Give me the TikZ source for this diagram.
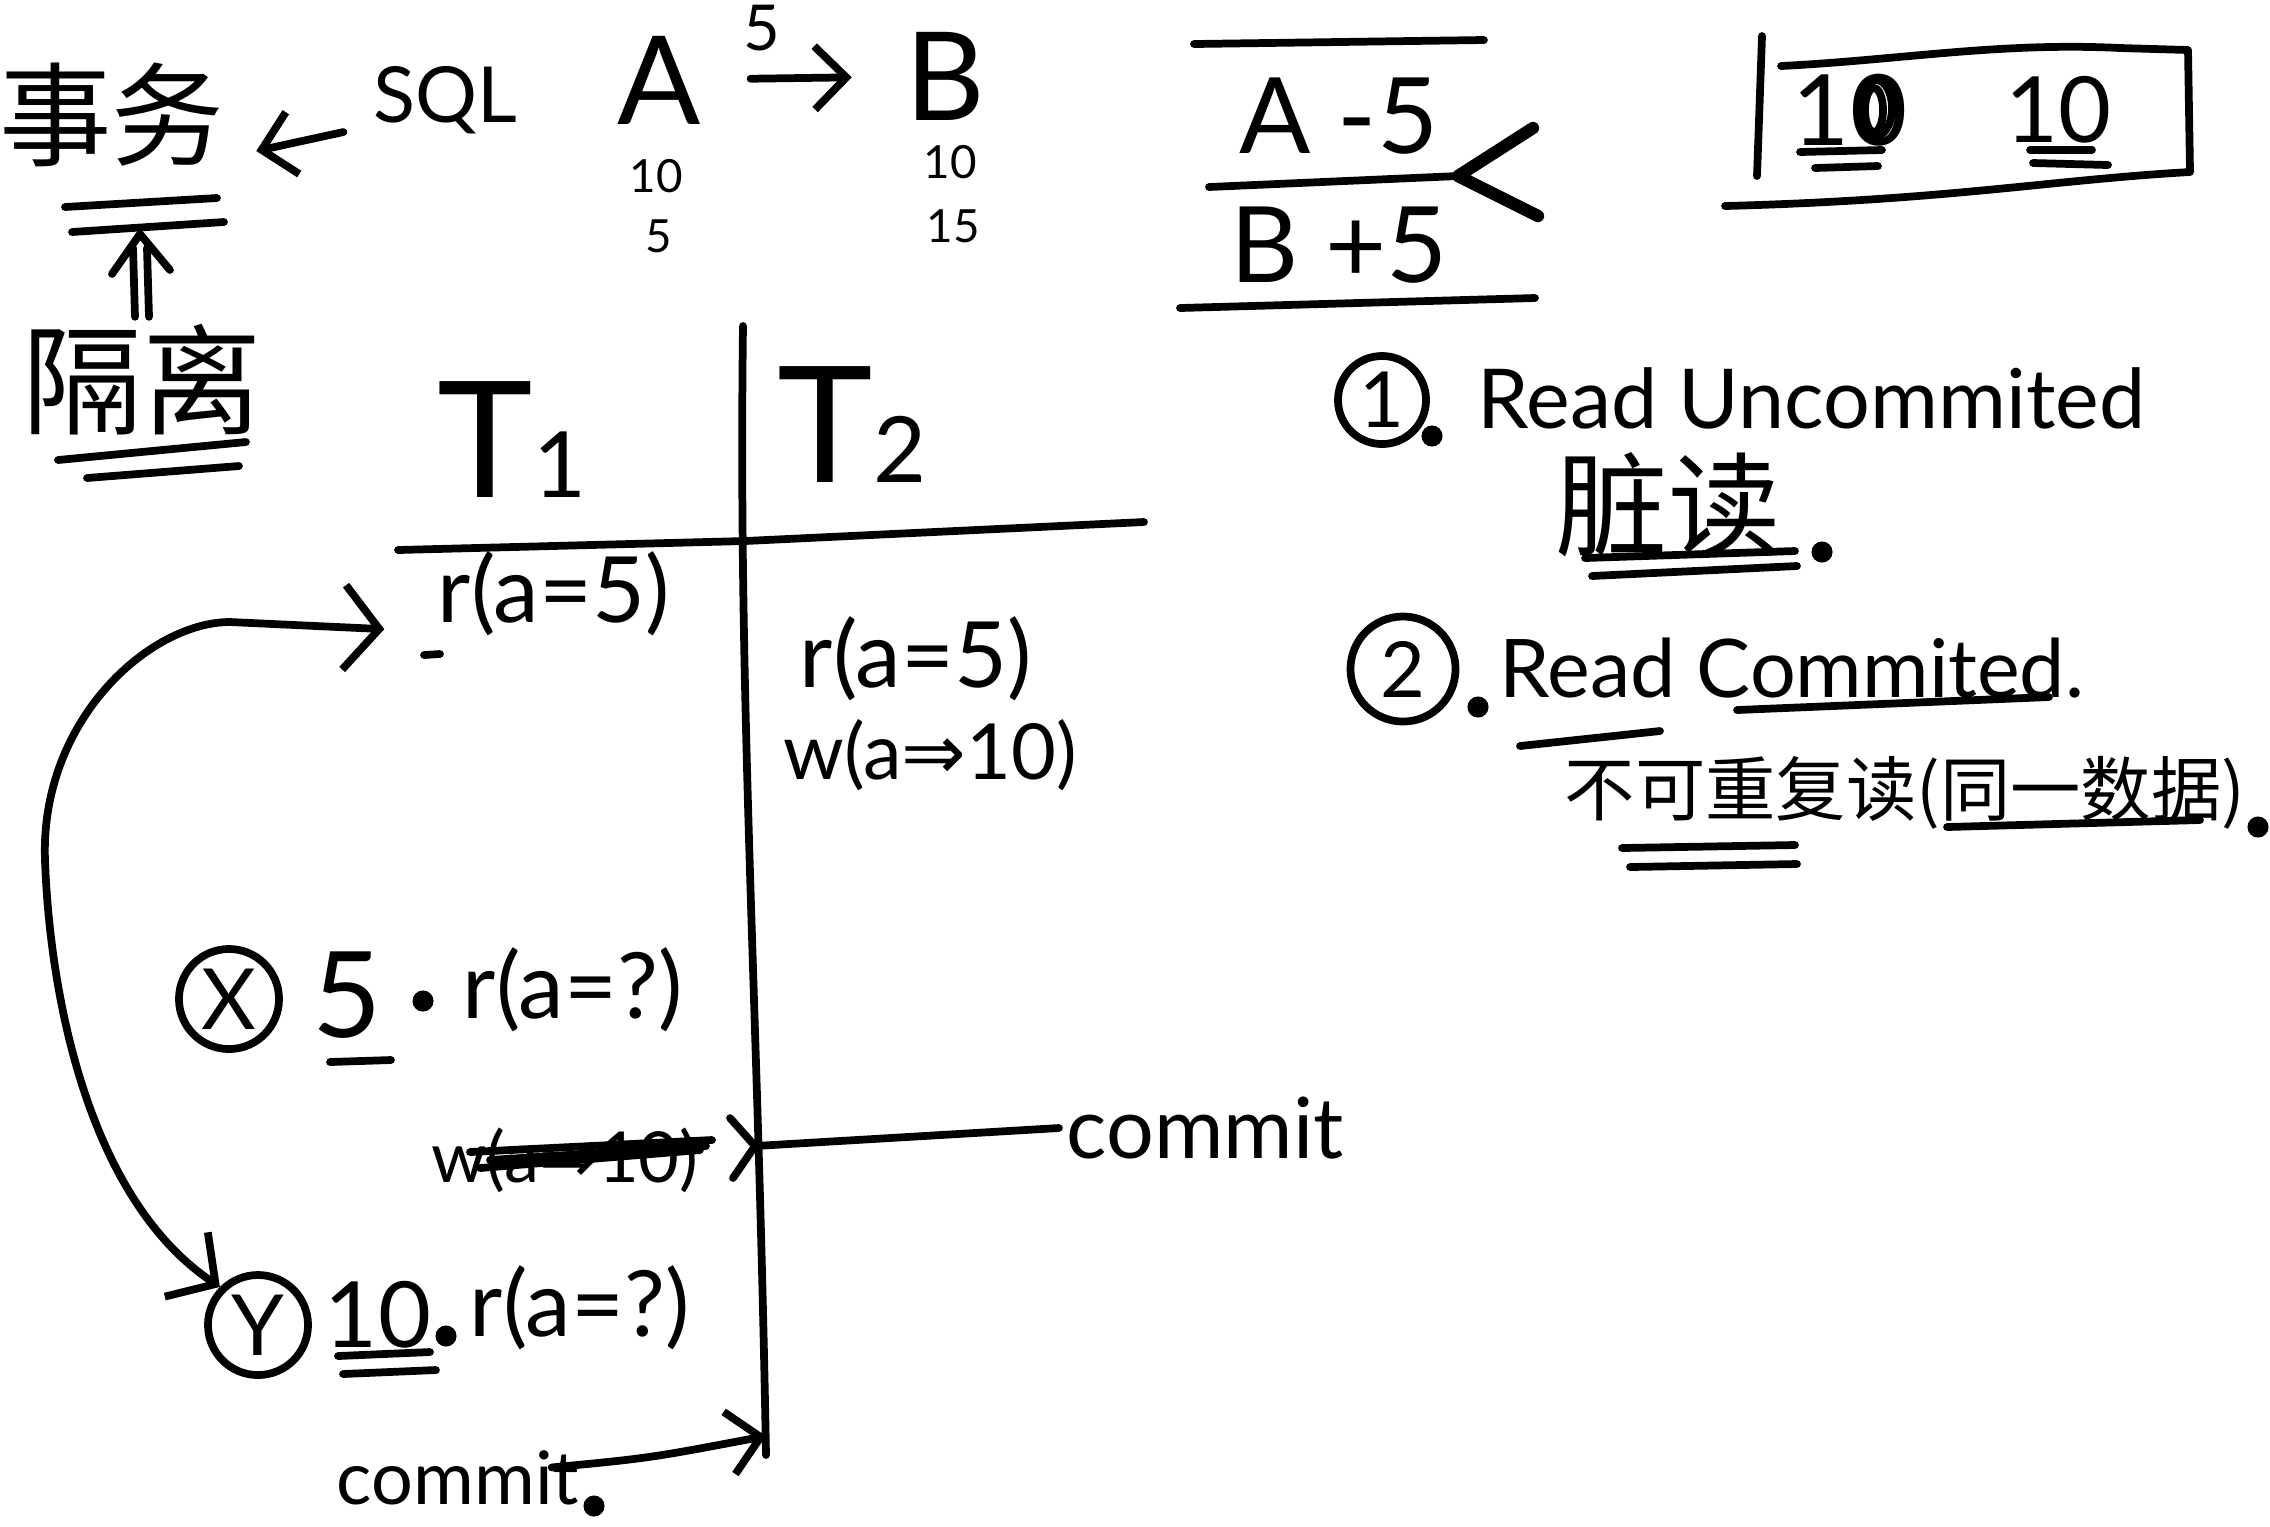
\documentclass[tikz,border=0pt]{standalone}
\usepackage{fontspec}
\setmainfont{Lato}
\newfontfamily\cjk{Noto Sans CJK SC}
\newfontfamily\dejavu{DejaVu Sans}
\usetikzlibrary{arrows.meta,calc}
\newcommand\fsz[1]{\fontsize{#1}{#1}\selectfont}
\begin{document}
\begin{tikzpicture}[x=0.01cm,y=-0.01cm]
\tikzset{
  ink/.style={line width=2.2pt, line cap=round, line join=round},
  barb/.style={-{Straight Barb[length=9pt,width=18pt]}},
  ring/.style={circle, draw, ink, inner sep=0pt, minimum size=1cm},
  txt/.style={inner sep=2pt},
}
\useasboundingbox[fill=white] (0,0) rectangle (2270,1526);

% ---- top left: transaction / SQL / isolation
\node[txt, font={\cjk\fsz{32pt}}] (shiwu) at (112,115) {事务};
\node[txt, font={\fsz{22pt}}] (sql) at (445,100) {SQL};
\draw[ink,barb] ($(sql.west)+(-22,32)$) -- ($(shiwu.east)+(24,36)$);
\draw[ink] (65,207) -- (217,198);
\draw[ink] (72,232) -- (224,222);
\node[txt, font={\cjk\fsz{34pt}}] (geli) at (142,380) {隔离};
\coordinate (bars) at (140,234);
\draw[ink] ($(geli.north)+(-7,0)$) -- ($(bars)+(-7,14)$);
\draw[ink] ($(geli.north)+(7,0)$) -- ($(bars)+(7,14)$);
\draw[ink] ($(bars)+(-28,40)$) -- (bars) -- ($(bars)+(30,36)$);
\draw[ink] (58,460) -- (246,442);
\draw[ink] (87,478) -- (239,466);

% ---- A -> B
\node[inner sep=0pt, font={\fsz{35pt}}] (A) at (659,80) {A};
\node[inner sep=0pt, font={\fsz{35pt}}] (B) at (945,76) {B};
\draw[ink,barb,shorten <=14pt,shorten >=15pt] (A) -- (B);
\node[txt, font={\fsz{18pt}}] (five) at (762,28) {5};
\node[inner sep=0pt, font={\fsz{13pt}}] (a10) at (656,176) {10};
\node[inner sep=0pt, font={\fsz{13pt}}] (a5) at (659,236) {5};
\node[inner sep=0pt, font={\fsz{13pt}}] (b10) at (950,162) {10};
\node[inner sep=0pt, font={\fsz{13pt}}] (b15) at (953,226) {15};

% ---- A-5 / B+5 block
\draw[ink] (1194,44) -- (1484,40);
\node[txt, font={\fsz{30pt}}] (am) at (1339,116) {A -5};
\coordinate (midtip) at (1458,176);
\draw[ink] (1209,187) -- (midtip);
\draw[line width=3.5pt, line cap=round, line join=round] ($(midtip)+(75,-48)$) -- (midtip) -- ($(midtip)+(80,40)$);
\node[txt, font={\fsz{30pt}}] (bp) at (1339,245) {B +5};
\draw[ink] (1180,308) -- (1535,298);

% ---- right box with values
\draw[ink] (1762,36) -- (1757,176);
\draw[ink] (1781,66) .. controls (1900,60) and (2000,42) .. (2120,48) -- (2188,50) -- (2190,172)
  .. controls (2050,180) and (1950,200) .. (1725,206);
\node[txt, font={\fsz{28pt}}] (old) at (1850,110) {10};
\draw[ink] ($(old.center)+(26,-2)$) ellipse [x radius=0.16cm, y radius=0.28cm];
\draw[ink] ($(old.center)+(24,0)$) ellipse [x radius=0.09cm, y radius=0.22cm];
\draw[ink] (1800,152) -- (1882,150);
\draw[ink] (1815,168) -- (1878,166);
\node[txt, font={\fsz{26pt}}] (new) at (2058,110) {10};
\draw[ink] (2030,150) -- (2092,150);
\draw[ink] (2033,163) -- (2108,165);

% ---- T1 / T2 table
\coordinate (vtop) at (743,326);
\coordinate (vbot) at (766,1455);
\coordinate (cA) at (755,1146);
\coordinate (cB) at (766,1436);
\draw[ink] (vtop) .. controls (738,700) and (758,1000) .. (vbot);
\draw[ink] (398,550) -- (745,541) -- (1144,522);
\node[txt, font={\fsz{46pt}}] (T1) at (512,440) {T{\fsz{26pt}1}};
\node[txt, font={\fsz{46pt}}] (T2) at (852,425) {T{\fsz{26pt}2}};

\node[txt, anchor=west, font={\fsz{26pt}}] (r1) at (430,594) {r(a=5)};
\draw[ink] (424,655) -- (440,654);
\node[txt, anchor=west, font={\fsz{26pt}}] (r2) at (792,659) {r(a=5)};
\node[txt, font={\fsz{22pt}}] (w2) at (930,755) {w(a{\dejavu ⇒}10)};

% X row
\node[ring, font={\fsz{24pt}}] (X) at (229,999) {X};
\node[txt, font={\fsz{34pt}}] (v5) at (347,995) {5};
\draw[ink] (330,1062) -- (391,1060);
\fill (423,1001) circle (3pt);
\node[txt, anchor=west, font={\fsz{26pt}}] (rx) at (455,990) {r(a=?)};

% struck write and T2 commit
\node[txt, font={\fsz{20pt}}] (ws) at (565,1160) {w(a{\dejavu ⇒}10)};
\draw[ink] (470,1152) -- (712,1140);
\draw[ink] (480,1168) -- (700,1150);
\draw[ink] (490,1160) -- (706,1146);
\draw[ink] ($(cA)+(-25,-28)$) -- (cA) -- ($(cA)+(-22,32)$);
\node[txt, font={\fsz{24pt}}] (commitR) at (1205,1128) {commit};
\draw[ink] (cA) -- (commitR.west);

% Y row
\node[ring, font={\fsz{24pt}}] (Y) at (258,1325) {Y};
\node[txt, font={\fsz{26pt}}] (ten) at (378,1315) {10};
\draw[ink] (338,1356) -- (430,1352);
\draw[ink] (343,1374) -- (436,1370);
\fill (446,1336) circle (3pt);
\node[txt, anchor=west, font={\fsz{26pt}}] (ry) at (462,1308) {r(a=?)};

% T1 commit
\node[txt, font={\fsz{21pt}}] (commitB) at (458,1478) {commit};
\draw[ink,barb] ([xshift=-10pt,yshift=3pt]commitB.east) .. controls (650,1458) .. (cB);
\fill (594,1506) circle (3pt);

% curved arrow between the two reads
\draw[ink, {Straight Barb[length=10pt,width=22pt]}-{Straight Barb[length=10pt,width=24pt]}]
  (Y.north west) .. controls (90,1200) and (50,1000) .. (45,860)
  .. controls (40,720) and (150,622) .. (230,622) -- ([xshift=-13pt,yshift=-10pt]r1.west);

% ---- isolation levels
\node[ring, minimum size=0.88cm, font={\fsz{22pt}}] (one) at (1382,400) {1};
\fill (1432,436) circle (3pt);
\node[txt, anchor=west, font={\fsz{23.5pt}}] (ru) at (1470,398) {Read Uncommited};
\node[txt, font={\cjk\fsz{32pt}}] (zang) at (1668,505) {脏读};
\draw[ink] (1585,558) -- (1795,551);
\draw[ink] (1592,576) -- (1797,566);
\fill (1822,552) circle (3pt);

\node[ring, minimum size=1.05cm, font={\fsz{22pt}}] (two) at (1403,669) {2};
\fill (1478,707) circle (3pt);
\node[txt, anchor=west, font={\fsz{23pt}}] (rc) at (1492,668) {Read Commited.};
\draw[ink] (1520,746) -- (1660,731);
\draw[ink] (1737,710) -- (2049,697);
\node[txt, font={\cjk\fsz{20pt}}] (nr) at (1905,793) {不可重复读(同一数据)};
\draw[ink] (1622,848) -- (1795,845);
\draw[ink] (1630,867) -- (1797,864);
\draw[ink] (1947,827) -- (2200,820);
\fill (2258,827) circle (3pt);
\end{tikzpicture}
\end{document}
